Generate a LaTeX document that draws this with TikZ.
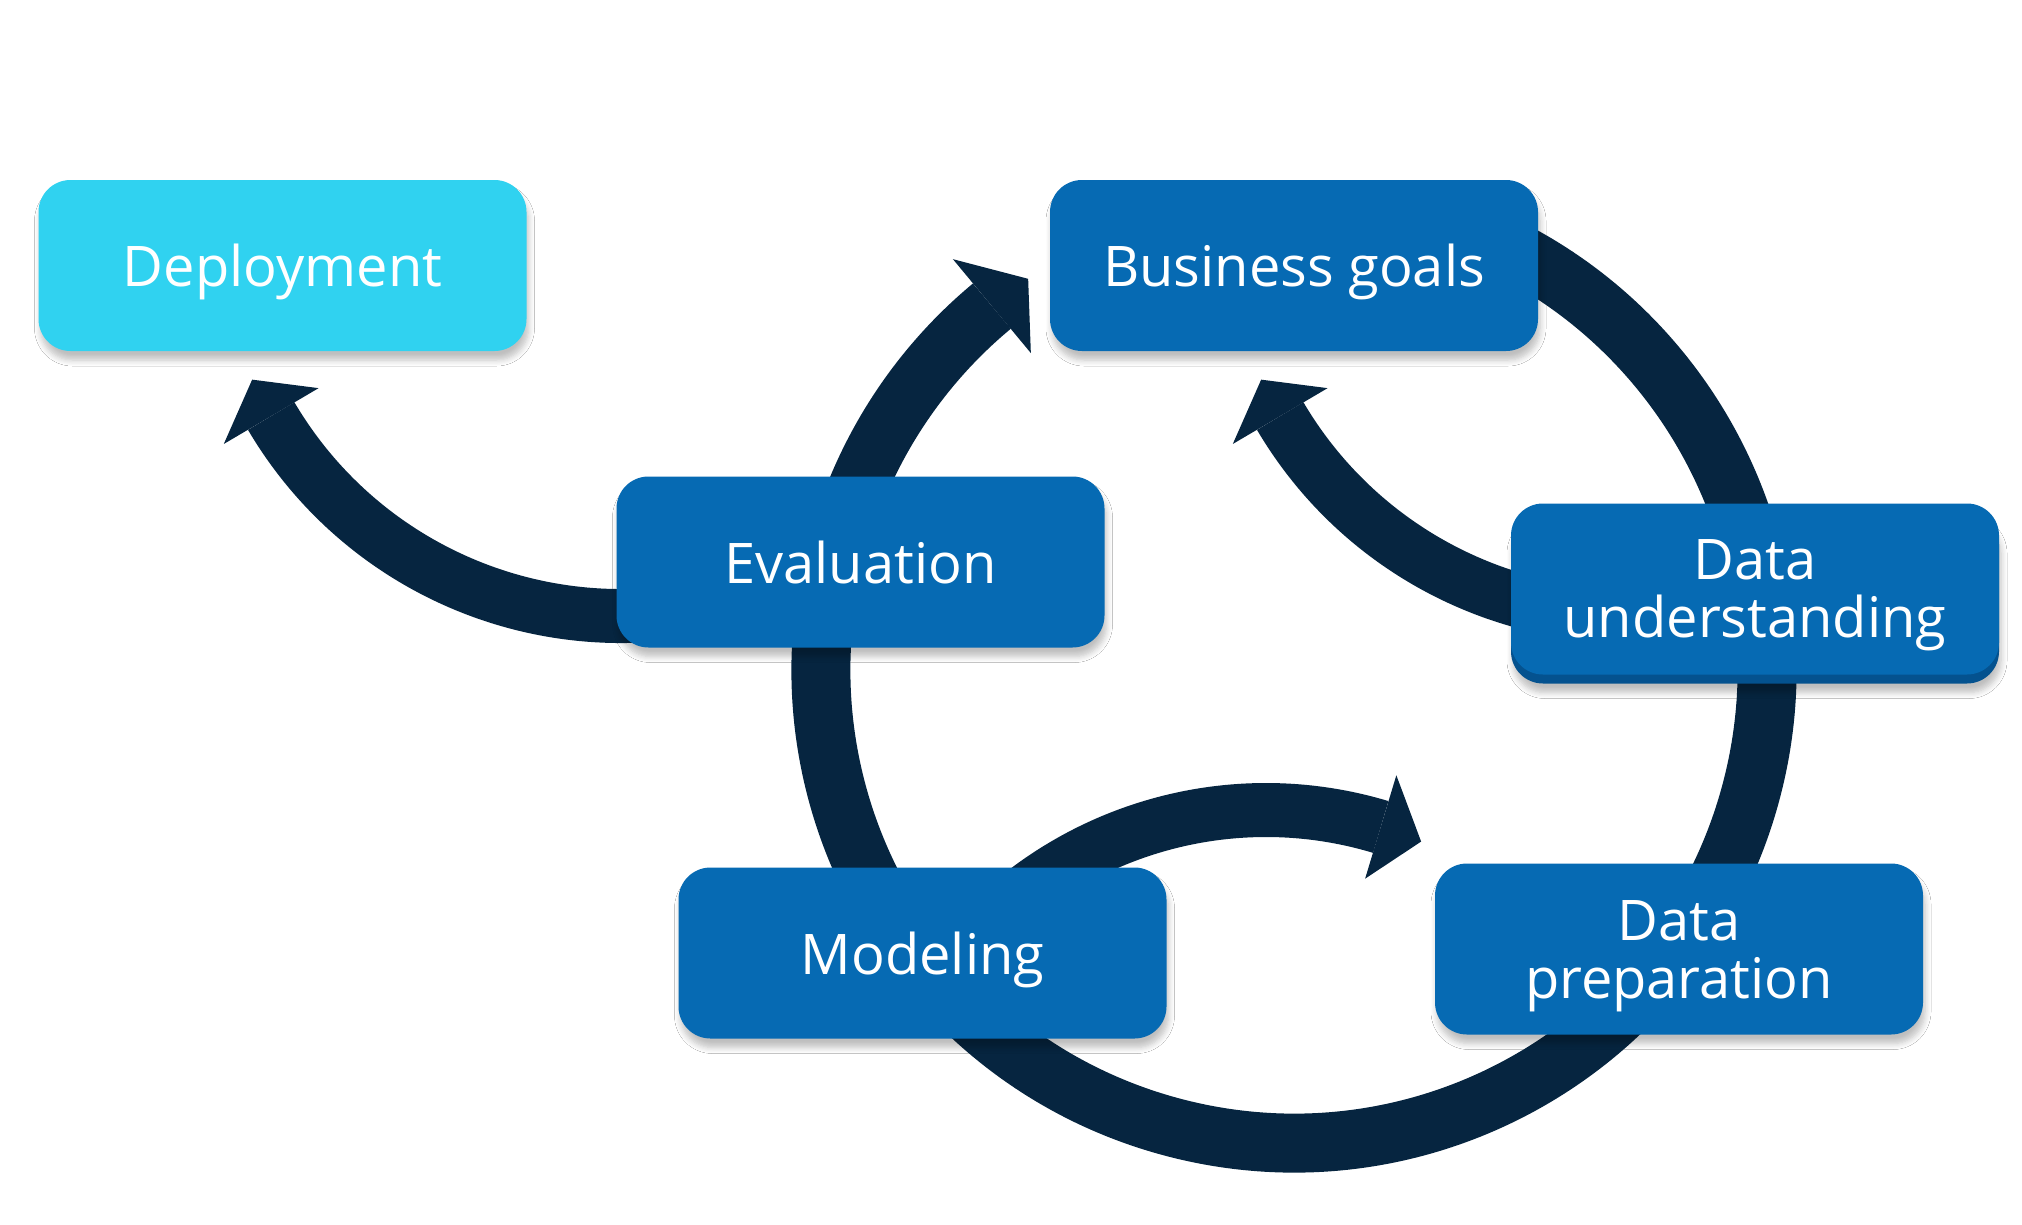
\documentclass[tikz,border=0pt]{standalone}
\usepackage{fontspec}
\setmainfont{Open Sans}
\usetikzlibrary{calc,shadows.blur}
\definecolor{boxblue}{HTML}{066AB3}
\definecolor{deploycyan}{HTML}{30D2F0}
\definecolor{arrownavy}{HTML}{062540}
\definecolor{boxedge}{HTML}{04528F}
\pgfdeclarelayer{background}
\pgfsetlayers{background,main}
\begin{document}
\begin{tikzpicture}[x=1pt,y=1pt,
  boxshadow/.style={blur shadow={shadow xshift=2pt, shadow yshift=-9pt, shadow blur radius=6pt, shadow blur steps=6, shadow opacity=25}},
  stagebox/.style={rectangle, rounded corners=32pt, minimum width=488pt, minimum height=171pt,
    fill=boxblue, text=white, align=center, inner sep=0pt, text depth=0pt,
    font=\fontsize{56}{58}\selectfont},
  flow/.style={draw=arrownavy, line width=54pt},
  ringflow/.style={draw=arrownavy, line width=59pt},
  tiphead/.style={fill=arrownavy}]
\useasboundingbox (0,0) rectangle (2022,-1224);

% stage boxes
\node[stagebox, boxshadow, fill=deploycyan] (deploy) at (282.5,-265.5) {Deployment};
\node[stagebox, boxshadow] (goals) at (1294,-265.5) {Business goals};
\node[stagebox, boxshadow] (eval) at (860.5,-562) {Evaluation};
\node[stagebox, boxshadow, fill=boxedge] (dataundbase) at (1755,-598) {};
\node[stagebox] (dataund) at (1755,-589) {Data\\understanding};
\node[stagebox, boxshadow] (model) at (922.5,-953) {Modeling};
\node[stagebox, boxshadow] (dataprep) at (1679,-949) {Data\\preparation};

% arc centres
\coordinate (ringc) at (1294,-670);
\coordinate (depc) at (621,-210);
\coordinate (duc) at (1630,-210);
\coordinate (modc) at (1266,-1207);

\begin{pgfonlayer}{background}
\fill[white] (0,0) rectangle (2022,-1224);
% main cycle: business goals -> ... -> evaluation -> business goals
\draw[ringflow] ($(ringc)+(75:473)$) arc[start angle=75, end angle=-230.3, radius=473];
\fill[tiphead] ($(ringc)+(129.7:534)$) -- ($(ringc)+(124.2:473)$) -- ($(ringc)+(129.7:412)$) -- cycle;
% evaluation -> deployment
\draw[flow] ($(depc)+(-75:406)$) arc[start angle=-75, end angle=-149.5, radius=406];
\fill[tiphead] ($(depc)+(-149.5:461)$) -- ($(depc)+(-155.3:406)$) -- ($(depc)+(-149.5:351)$) -- cycle;
% data understanding -> business goals
\draw[flow] ($(duc)+(-75:406)$) arc[start angle=-75, end angle=-149.5, radius=406];
\fill[tiphead] ($(duc)+(-149.5:461)$) -- ($(duc)+(-155.3:406)$) -- ($(duc)+(-149.5:351)$) -- cycle;
% modeling -> data preparation
\draw[flow] ($(modc)+(140:397)$) arc[start angle=140, end angle=73.2, radius=397];
\fill[tiphead] ($(modc)+(73.2:451)$) -- ($(modc)+(67:397)$) -- ($(modc)+(73.2:343)$) -- cycle;
\end{pgfonlayer}
\end{tikzpicture}
\end{document}
